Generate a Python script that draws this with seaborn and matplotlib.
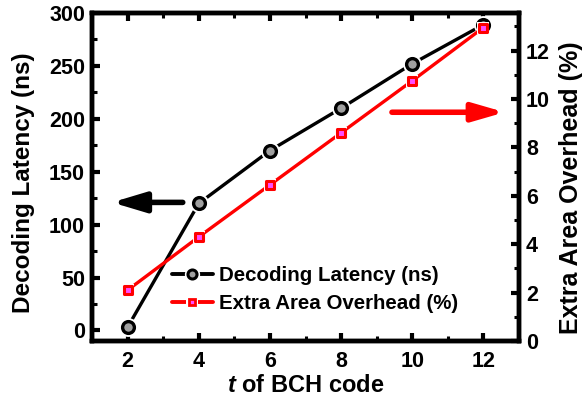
import matplotlib
matplotlib.use("Agg")
import matplotlib.pyplot as plt
from matplotlib import font_manager
from matplotlib.lines import Line2D
from matplotlib.legend_handler import HandlerTuple
import seaborn as sns
import pandas as pd
from matplotlib.ticker import MultipleLocator

t_values = [2, 4, 6, 8, 10, 12]
latency_ns = [3, 120, 170, 210, 252, 289]
area_overhead_pct = [2.1, 4.3, 6.45, 8.6, 10.75, 12.95]
latency_label = "Decoding Latency (ns)"
area_label = "Extra Area Overhead (%)"
x_label = "of BCH code"
x_ticks = [2, 4, 6, 8, 10, 12]
left_ticks = [0, 50, 100, 150, 200, 250, 300]
right_ticks = [0, 2, 4, 6, 8, 10, 12]

sns.set_theme(style="ticks")

# pick a sans family that actually has a bold face
fam = "DejaVu Sans"
for cand in ["Liberation Sans", "Arimo", "Roboto", "Open Sans", "Lato", "Noto Sans", "DejaVu Sans"]:
    if any(f.name == cand and (f.weight in ("bold", 700) or str(f.weight) == "700")
           for f in font_manager.fontManager.ttflist):
        fam = cand
        break
plt.rcParams['font.family'] = [fam, 'DejaVu Sans']
plt.rcParams['font.weight'] = 'bold'
plt.rcParams['axes.labelweight'] = 'bold'
plt.rcParams['mathtext.fontset'] = 'custom'
plt.rcParams['mathtext.it'] = fam + ':italic:bold'
plt.rcParams['mathtext.bf'] = fam + ':bold'
for k in ['text.color', 'axes.labelcolor', 'xtick.color', 'ytick.color', 'axes.edgecolor']:
    plt.rcParams[k] = 'black'

df = pd.DataFrame({"t": t_values, "lat": latency_ns, "area": area_overhead_pct})

fig = plt.figure(figsize=(5.84, 4.03), dpi=100)
ax = fig.add_axes([92/584, 1-341/403, (519-92)/584, (341-13)/403])
ax2 = ax.twinx()

# lines
sns.lineplot(data=df, x="t", y="lat", ax=ax, color="black", lw=2.4, legend=False, zorder=2)
sns.lineplot(data=df, x="t", y="area", ax=ax2, color="red", lw=2.4, legend=False, zorder=2)
# white halos (gap between line and marker)
sns.scatterplot(data=df, x="t", y="lat", ax=ax, marker="o", s=185, color="white",
                linewidth=0, legend=False, zorder=3)
sns.scatterplot(data=df, x="t", y="area", ax=ax2, marker="s", s=72, color="white",
                linewidth=0, legend=False, zorder=3)
# markers
sns.scatterplot(data=df, x="t", y="lat", ax=ax, marker="o", s=72, color="#a0a0a0",
                edgecolor="black", linewidth=2.4, legend=False, zorder=4)
sns.scatterplot(data=df, x="t", y="area", ax=ax2, marker="s", s=30, color="#ff4dff",
                edgecolor="red", linewidth=2.2, legend=False, zorder=4)

ax.set_xlim(1, 13)
ax.set_ylim(-10, 300)
ax2.set_ylim(0, 13.55)
ax.set_xticks(x_ticks)
ax.xaxis.set_minor_locator(MultipleLocator(1))
ax.set_yticks(left_ticks)
ax.yaxis.set_minor_locator(MultipleLocator(25))
ax2.set_yticks(right_ticks)
ax2.yaxis.set_minor_locator(MultipleLocator(1))

for a in (ax, ax2):
    for s in a.spines.values():
        s.set_linewidth(3.2)
        s.set_visible(True)
        s.set_color("black")
    a.tick_params(which="major", direction="in", length=5.5, width=3, labelsize=15.5, pad=5)
    a.tick_params(which="minor", direction="in", length=3.5, width=2.2)
ax.tick_params(axis="x", which="both", top=True, pad=7)
ax.tick_params(axis="y", which="both", right=False)
for lab in ax.get_xticklabels() + ax.get_yticklabels() + ax2.get_yticklabels():
    lab.set_fontweight("bold")

ax.set_xlabel(r"$\mathit{t}$ " + x_label, fontsize=17, fontweight="bold", labelpad=2)
ax.set_ylabel(latency_label, fontsize=17.5, fontweight="bold")
ax2.set_ylabel(area_label, fontsize=18, fontweight="bold")
ax.yaxis.set_label_coords(-0.1335, 0.483)
ax2.yaxis.set_label_coords(1.0937, 0.466)

# arrows
ax.annotate("", xy=(1.56, 121), xytext=(3.55, 121),
            arrowprops=dict(arrowstyle="-|>,head_length=2.0,head_width=0.6", color="black",
                            lw=4, shrinkA=0, shrinkB=0, mutation_scale=10))
ax2.annotate("", xy=(12.6, 9.45), xytext=(9.43, 9.45),
             arrowprops=dict(arrowstyle="-|>,head_length=1.9,head_width=0.55", color="red",
                             lw=4, shrinkA=0, shrinkB=0, mutation_scale=10))

# legend
def handle(color, marker, ms, halo_ms, face, edge, ew):
    ln = Line2D([], [], color=color, lw=2.8)
    halo = Line2D([], [], ls="none", marker=marker, markersize=halo_ms, markerfacecolor="white",
                  markeredgewidth=0)
    mk = Line2D([], [], ls="none", marker=marker, markersize=ms, markerfacecolor=face,
                markeredgecolor=edge, markeredgewidth=ew)
    return (ln, halo, mk)

handles = [handle("black", "o", 6.5, 11, "#a0a0a0", "black", 2.2),
           handle("red", "s", 4.2, 8.6, "#ff4dff", "red", 2.0)]
leg = ax.legend(handles, [latency_label, area_label], handler_map={tuple: HandlerTuple(ndivide=1)},
                loc="center left", bbox_to_anchor=(0.187, 0.157), borderaxespad=0, borderpad=0,
                frameon=False, handlelength=2.0, handletextpad=0.3, labelspacing=0.42,
                prop={"weight": "bold", "size": 14.8})

fig.savefig("out.png", dpi=100)
